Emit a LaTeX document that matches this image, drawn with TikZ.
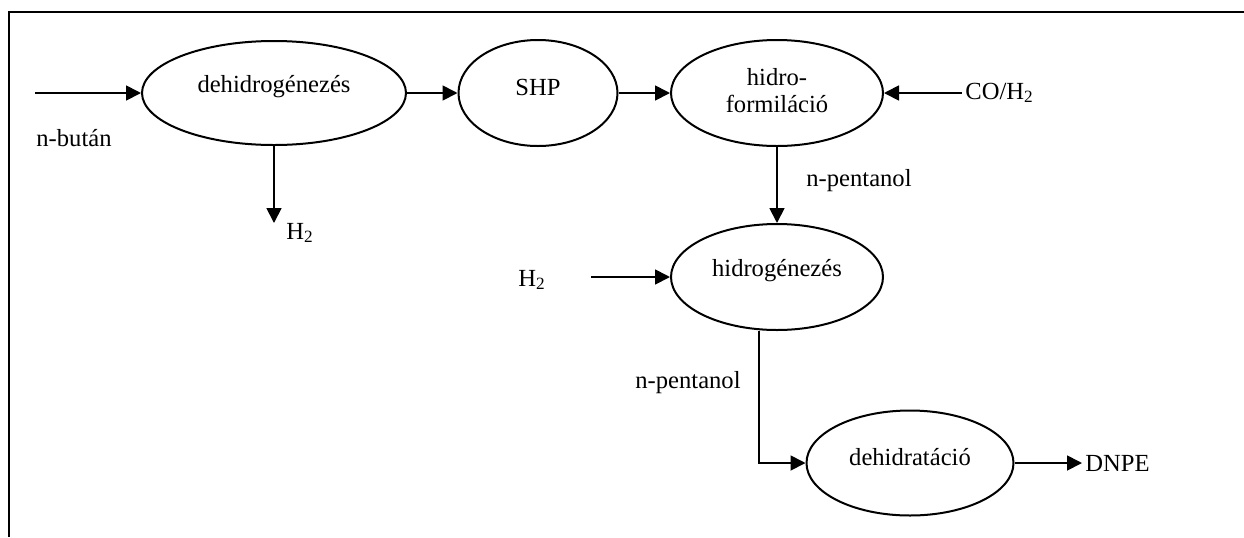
\documentclass[tikz,border=0pt]{standalone}
\usepackage{fontspec}
\setmainfont{Liberation Serif}
\usetikzlibrary{arrows.meta,calc,shapes.geometric}

\begin{document}
\begin{tikzpicture}[x=0.5pt,y=-0.5pt,
		font=\fontsize{12.3}{13.5}\selectfont,
		proc/.style={draw, ellipse, line width=1pt, inner sep=0pt},
		flow/.style={-{Triangle[length=7.5pt,width=7.5pt]}, line width=0.9pt},
		txt/.style={inner sep=1.5pt}]
			%%%%% START %%%%%
			\useasboundingbox (0,0) rectangle (1244,537);
			\draw[line width=1pt] (1244,11.5) -- (8.5,11.5) -- (8.5,537);
			
			\node[proc, minimum width=132pt, minimum height=52pt, label={[yshift=3pt]center:dehidrogénezés}] (deh) at (274,93) {};
			\node[proc, minimum width=79.5pt, minimum height=53pt, label={[yshift=3pt]center:SHP}] (shp) at (538,93) {};
			\node[proc, minimum width=106pt, minimum height=53pt, label={[yshift=1pt, align=center]center:{hidro-\\formiláció}}] (hf) at (777,93) {};
			\node[proc, minimum width=106pt, minimum height=53pt, label={[yshift=3pt]center:hidrogénezés}] (hg) at (777,277) {};
			\node[proc, minimum width=103.5pt, minimum height=52.5pt, label={[yshift=3pt]center:dehidratáció}] (dh) at (910,463) {};
			
			\node[txt] (but) at (74,138) {n-bután};
			\node[txt] (h2a) at (300,233) {H\textsubscript{2}};
			\node[txt, anchor=west] (co) at (962,93) {CO/H\textsubscript{2}};
			\node[txt] (np1) at (859,181) {n-pentanol};
			\node[txt] (h2b) at (532,280) {H\textsubscript{2}};
			\node[txt] (np2) at (688,383) {n-pentanol};
			\node[txt, anchor=west] (dnpe) at (1082,463) {DNPE};
			
			\coordinate (in) at (35,93);
			\coordinate (h2out) at (274,223);
			\coordinate (h2in) at (591,277);
			
			\draw[flow] (in) -- (deh.west);
			\draw[flow] (deh.east) -- (shp.west);
			\draw[flow] (shp.east) -- (hf.west);
			\draw[flow] (co.west) -- (hf.east);
			\draw[flow] (deh.south) -- (h2out);
			\draw[flow] (hf.south) -- (hg.north);
			\draw[flow] (h2in) -- (hg.west);
			\draw[flow] ($(hg.south)+(-18,0)$) |- (dh.west);
			\draw[flow] (dh.east) -- (dnpe.west);
			%%%%% END %%%%%
\end{tikzpicture}
\end{document}
